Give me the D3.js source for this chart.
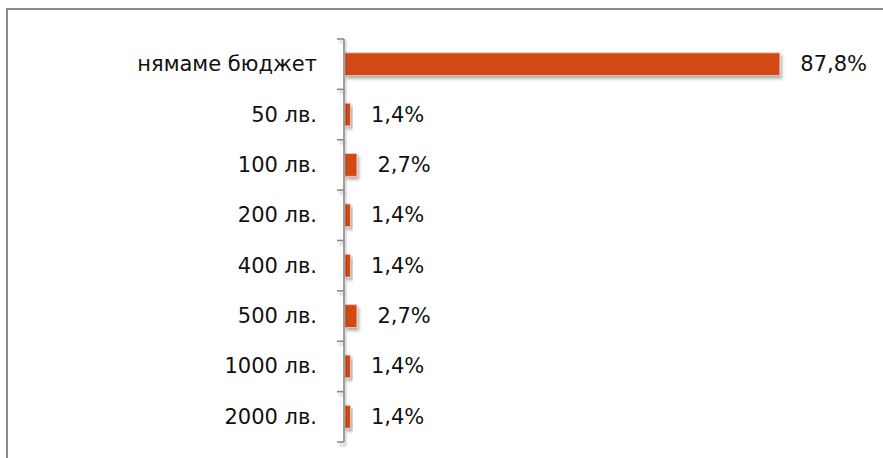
<!DOCTYPE html>
<html><head><meta charset="utf-8">
<script src="https://cdn.jsdelivr.net/npm/d3@7"></script>
<style>
html,body{margin:0;padding:0;background:#fff;}
svg{display:block;}
text{font-family:"DejaVu Sans",sans-serif;fill:#111;}
</style></head>
<body>
<svg id="c" width="883" height="458"></svg>
<script>
const categories = ["нямаме бюджет","50 лв.","100 лв.","200 лв.","400 лв.","500 лв.","1000 лв.","2000 лв."];
const values = [87.8, 1.4, 2.7, 1.4, 1.4, 2.7, 1.4, 1.4];
const valueLabels = ["87,8%","1,4%","2,7%","1,4%","1,4%","2,7%","1,4%","1,4%"];
const barColor = "#D34817";

const svg = d3.select("#c");
const defs = svg.append("defs");
const f = defs.append("filter").attr("id","sh").attr("x","-20%").attr("y","-50%").attr("width","160%").attr("height","250%");
f.append("feDropShadow").attr("dx",2).attr("dy",3).attr("stdDeviation",1.8).attr("flood-color","#000").attr("flood-opacity",0.3);

// frame
svg.append("rect").attr("x",7).attr("y",9).attr("width",900).attr("height",480)
  .attr("fill","none").attr("stroke","#8c8c8c").attr("stroke-width",2);

const y = d3.scaleBand().domain(categories).range([39,442]).paddingInner(0.55).paddingOuter(0.275);
const x = d3.scaleLinear().domain([0,100]).range([345,842]);

// bars
svg.append("g").selectAll("rect").data(values).join("rect")
  .attr("x", x(0))
  .attr("y", (d,i)=>y(categories[i]))
  .attr("width", d=>Math.max(0,x(d)-x(0)-1.5))
  .attr("height", y.bandwidth())
  .attr("fill", barColor)
  .attr("stroke","#f3c9b5").attr("stroke-width",0.8)
  .attr("filter","url(#sh)");

// axis
const axisG = svg.append("g").attr("filter","url(#sh)");
axisG.append("line").attr("x1",344).attr("x2",344).attr("y1",39).attr("y2",442)
  .attr("stroke","#8a8a8a").attr("stroke-width",1.6);
const edges = categories.map(c=>y(c)-y.step()*y.paddingInner()/2).concat([442]);
edges[0]=39;
axisG.selectAll(".tk").data(edges).join("line").attr("class","tk")
  .attr("x1",337).attr("x2",344).attr("y1",d=>d).attr("y2",d=>d)
  .attr("stroke","#8a8a8a").attr("stroke-width",1.6);

// category labels
svg.append("g").selectAll("text").data(categories).join("text")
  .attr("x",317).attr("y",c=>y(c)+y.bandwidth()/2)
  .attr("text-anchor","end").attr("dominant-baseline","central")
  .attr("font-size",21).text(c=>c);

// value labels
svg.append("g").selectAll("text").data(values).join("text")
  .attr("x",d=>x(d)+19).attr("y",(d,i)=>y(categories[i])+y.bandwidth()/2)
  .attr("dominant-baseline","central")
  .attr("font-size",21).text((d,i)=>valueLabels[i]);
</script>
</body></html>
